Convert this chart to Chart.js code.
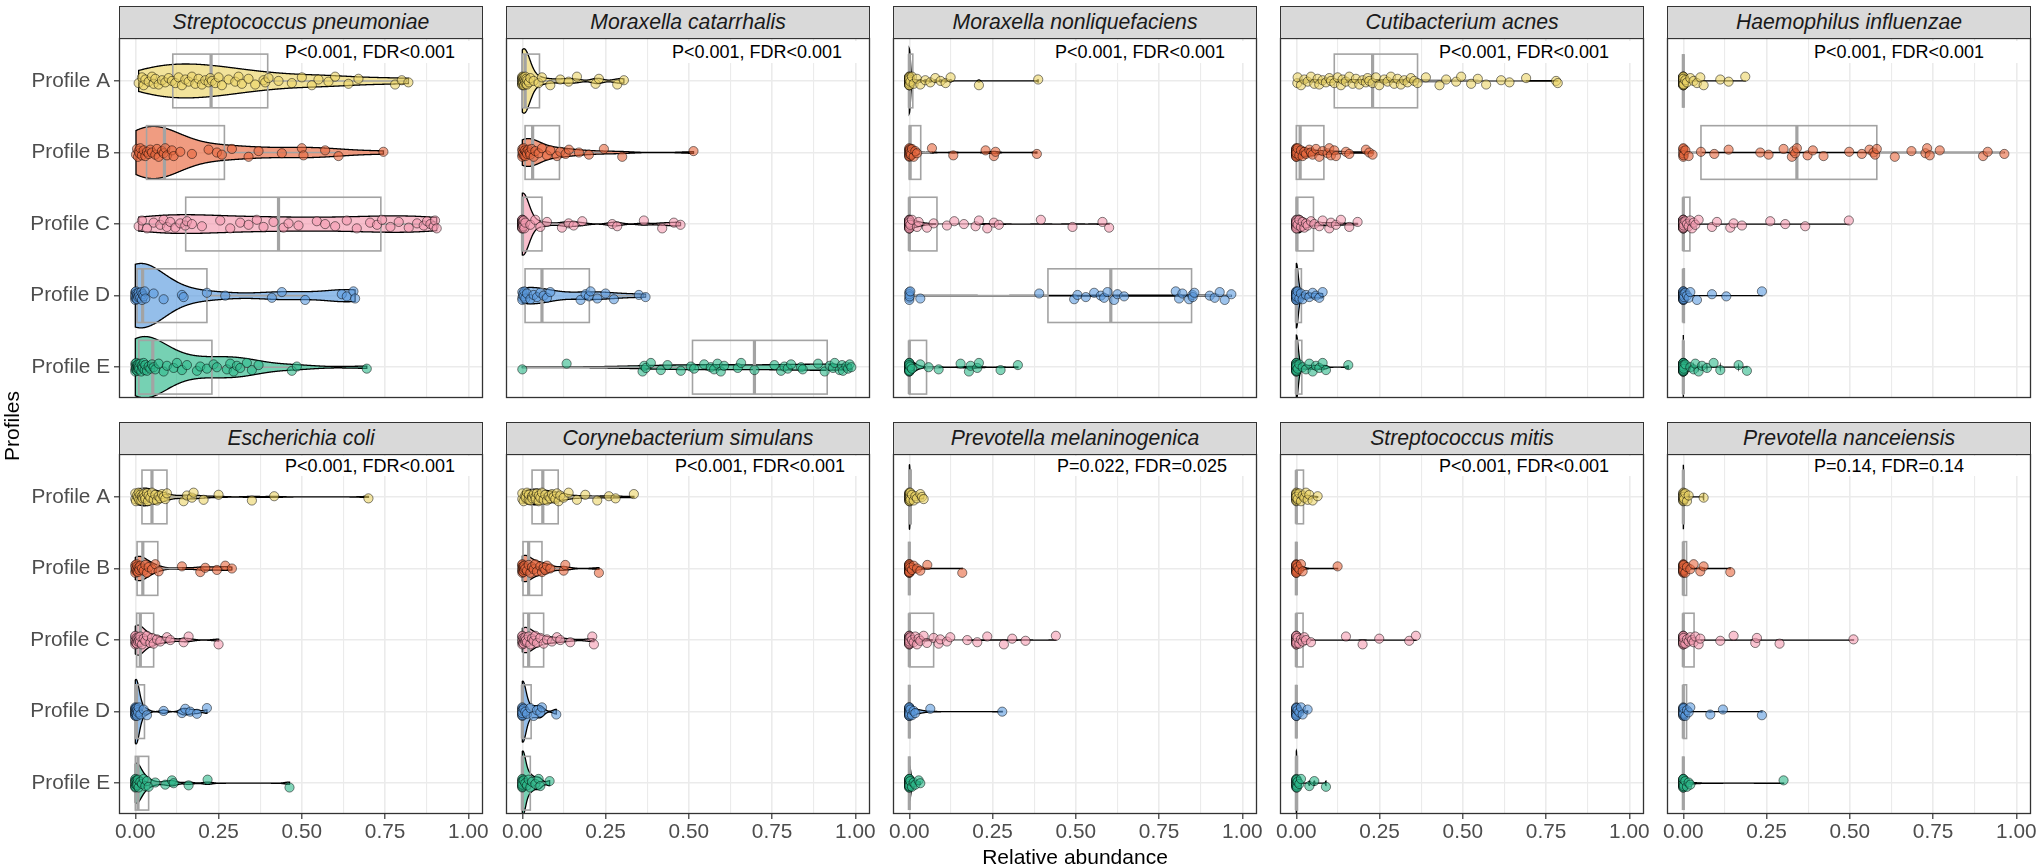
<!DOCTYPE html>
<html>
<head>
<meta charset="utf-8">
<script src="https://cdn.jsdelivr.net/npm/chart.js@4.4.1/dist/chart.umd.min.js"></script>
<style>
  body { margin: 0; background: #fff; width: 2040px; height: 866px; position: relative; overflow: hidden;
         font-family: "Liberation Sans", Arial, sans-serif; }
  canvas { position: absolute; }
  .strip { position: absolute; box-sizing: border-box; border: 1.3px solid #333; background: #d9d9d9;
           text-align: center; font-style: italic; font-size: 21.2px; line-height: 30px; color: #1a1a1a; }
  .pval { position: absolute; background: #fff; font-size: 18px; color: #000; white-space: nowrap; box-sizing: border-box; }
  .title { position: absolute; font-size: 21px; color: #000; white-space: nowrap; }
</style>
</head>
<body>
<script>
// facets, groups, labels
const species = ['Streptococcus pneumoniae', 'Moraxella catarrhalis', 'Moraxella nonliquefaciens', 'Cutibacterium acnes', 'Haemophilus influenzae',
  'Escherichia coli', 'Corynebacterium simulans', 'Prevotella melaninogenica', 'Streptococcus mitis', 'Prevotella nanceiensis'];
const profiles = ['Profile A', 'Profile B', 'Profile C', 'Profile D', 'Profile E'];
const pLabels = ['P<0.001, FDR<0.001', 'P<0.001, FDR<0.001', 'P<0.001, FDR<0.001', 'P<0.001, FDR<0.001', 'P<0.001, FDR<0.001',
  'P<0.001, FDR<0.001', 'P<0.001, FDR<0.001', 'P=0.022, FDR=0.025', 'P<0.001, FDR<0.001', 'P=0.14, FDR=0.14'];
const xTicks = [0, 0.125, 0.25, 0.375, 0.5, 0.625, 0.75, 0.875, 1];

// relative abundance per sample, one list per profile (A..E)
const sPneumoniae = [
  [0.01,0.02,0.025,0.03,0.04,0.05,0.055,0.06,0.07,0.08,0.09,0.1,0.11,0.12,0.13,0.14,0.15,0.16,0.17,0.18,0.19,0.2,0.21,0.22,0.225,0.23,0.24,0.25,0.26,0.28,0.3,0.31,0.32,0.34,0.36,0.385,0.39,0.4,0.43,0.47,0.5,0.53,0.55,0.58,0.6,0.64,0.67,0.78,0.8,0.82],
  [0.002,0.005,0.008,0.01,0.012,0.015,0.02,0.025,0.03,0.035,0.04,0.045,0.05,0.06,0.065,0.07,0.08,0.085,0.09,0.095,0.11,0.115,0.135,0.17,0.22,0.245,0.26,0.29,0.34,0.37,0.44,0.5,0.505,0.57,0.61,0.745],
  [0.01,0.02,0.035,0.055,0.075,0.085,0.095,0.105,0.12,0.135,0.15,0.155,0.17,0.2,0.255,0.285,0.315,0.34,0.365,0.385,0.415,0.445,0.46,0.49,0.545,0.57,0.6,0.635,0.665,0.705,0.726,0.741,0.766,0.791,0.821,0.846,0.866,0.876,0.886,0.896,0.9,0.905],
  [0,0,0,0,0,0.002,0.003,0.004,0.005,0.006,0.008,0.01,0.012,0.015,0.018,0.02,0.022,0.025,0.028,0.03,0.055,0.085,0.14,0.145,0.215,0.27,0.41,0.44,0.51,0.62,0.635,0.655,0.66],
  [0,0,0,0.001,0.002,0.003,0.004,0.005,0.006,0.007,0.008,0.009,0.01,0.012,0.015,0.018,0.02,0.022,0.025,0.028,0.03,0.035,0.04,0.045,0.05,0.055,0.06,0.07,0.085,0.095,0.115,0.125,0.14,0.155,0.185,0.195,0.215,0.235,0.245,0.275,0.285,0.295,0.305,0.315,0.335,0.35,0.37,0.47,0.485,0.695]
];
const mCatarrhalis = [
  [0,0,0,0,0,0,0,0,0,0,0,0.001,0.002,0.003,0.004,0.005,0.006,0.008,0.009,0.01,0.012,0.014,0.015,0.02,0.024,0.034,0.049,0.059,0.084,0.114,0.139,0.164,0.22,0.23,0.285,0.305],
  [0,0,0,0,0.002,0.004,0.005,0.008,0.009,0.012,0.014,0.018,0.022,0.024,0.028,0.034,0.039,0.049,0.059,0.074,0.084,0.104,0.114,0.13,0.14,0.17,0.2,0.245,0.3,0.514],
  [0,0,0,0,0,0,0,0,0,0,0,0,0,0,0,0,0,0,0,0,0,0,0.001,0.002,0.002,0.003,0.003,0.004,0.006,0.009,0.024,0.039,0.054,0.074,0.119,0.139,0.154,0.18,0.27,0.285,0.365,0.42,0.455,0.475],
  [0,0,0,0.002,0.004,0.006,0.009,0.014,0.024,0.034,0.044,0.054,0.064,0.074,0.084,0.175,0.19,0.2,0.205,0.225,0.25,0.275,0.35,0.37],
  [0,0.133,0.361,0.366,0.371,0.386,0.416,0.436,0.476,0.506,0.516,0.546,0.566,0.576,0.586,0.596,0.606,0.647,0.657,0.697,0.757,0.777,0.787,0.797,0.807,0.837,0.842,0.888,0.908,0.923,0.933,0.938,0.953,0.96,0.963,0.973,0.978,0.983,0.988]
];
const mNonliquefaciens = [
  [0,0,0,0,0,0,0,0,0,0,0,0,0,0,0,0,0,0,0,0,0,0,0,0,0,0,0,0,0,0,0.003,0.008,0.013,0.023,0.033,0.048,0.063,0.078,0.094,0.109,0.124,0.209,0.387],
  [0,0,0,0,0,0,0,0,0,0,0.001,0.002,0.003,0.005,0.008,0.013,0.018,0.023,0.068,0.132,0.229,0.254,0.259,0.383],
  [0,0,0,0,0,0,0,0,0,0,0,0,0,0,0,0,0,0,0,0,0,0,0,0,0,0,0,0,0,0,0.003,0.008,0.023,0.028,0.053,0.073,0.113,0.135,0.164,0.199,0.209,0.234,0.254,0.269,0.395,0.49,0.58,0.6],
  [0,0,0,0,0.001,0.003,0.033,0.39,0.495,0.505,0.53,0.555,0.575,0.585,0.595,0.615,0.625,0.645,0.8,0.81,0.82,0.84,0.85,0.851,0.856,0.902,0.917,0.932,0.947,0.967],
  [0,0,0,0,0,0,0,0,0,0,0,0,0,0,0,0,0,0,0,0,0,0,0.003,0.008,0.033,0.058,0.088,0.154,0.179,0.184,0.204,0.209,0.274,0.326]
];
const cAcnes = [
  [0.003,0.004,0.014,0.024,0.034,0.044,0.054,0.064,0.069,0.079,0.089,0.099,0.104,0.114,0.124,0.134,0.139,0.149,0.159,0.169,0.179,0.189,0.199,0.209,0.214,0.219,0.229,0.239,0.249,0.264,0.274,0.284,0.294,0.304,0.314,0.324,0.334,0.344,0.354,0.364,0.389,0.43,0.45,0.48,0.495,0.525,0.545,0.57,0.615,0.64,0.69,0.78,0.785],
  [0,0,0,0,0,0,0,0,0,0,0,0,0,0,0,0,0,0,0.004,0.009,0.014,0.019,0.024,0.029,0.039,0.044,0.049,0.059,0.069,0.079,0.094,0.099,0.104,0.114,0.119,0.149,0.159,0.209,0.219,0.229],
  [0,0,0,0,0,0,0,0,0,0,0,0,0,0,0,0,0,0.004,0.009,0.014,0.019,0.024,0.029,0.034,0.044,0.054,0.069,0.079,0.099,0.104,0.119,0.134,0.159,0.184],
  [0,0,0,0,0,0,0,0,0,0,0,0,0,0,0,0,0,0,0.004,0.009,0.014,0.019,0.029,0.039,0.049,0.059,0.069,0.079],
  [0,0,0,0,0,0,0,0,0,0,0,0,0,0,0,0,0,0,0,0,0,0,0,0.004,0.009,0.019,0.029,0.039,0.049,0.059,0.069,0.079,0.089,0.156]
];
const hInfluenzae = [
  [0,0,0,0,0,0,0,0,0,0,0,0,0,0,0,0,0,0,0,0,0,0,0,0,0,0,0,0,0,0,0,0,0,0,0.001,0.006,0.011,0.021,0.031,0.041,0.051,0.061,0.111,0.136,0.186],
  [0,0,0,0,0,0,0.001,0.006,0.016,0.053,0.093,0.136,0.231,0.256,0.301,0.326,0.331,0.336,0.341,0.373,0.389,0.421,0.498,0.536,0.559,0.571,0.576,0.581,0.635,0.685,0.727,0.732,0.74,0.77,0.9,0.914,0.964],
  [0,0,0,0,0,0,0,0,0,0,0,0,0,0,0,0,0,0,0,0,0,0,0,0,0,0,0,0,0,0,0,0,0,0,0,0,0.001,0.006,0.011,0.016,0.021,0.026,0.031,0.036,0.046,0.086,0.101,0.141,0.151,0.176,0.261,0.306,0.366,0.497],
  [0,0,0,0,0,0,0,0,0,0,0,0,0,0,0,0,0,0,0,0,0.0005,0.001,0.001,0.002,0.006,0.011,0.016,0.021,0.041,0.086,0.129,0.236],
  [0,0,0,0,0,0,0,0,0,0,0,0,0,0,0,0,0,0,0,0,0,0,0,0,0,0,0,0,0,0,0,0,0,0,0,0,0.001,0.006,0.021,0.031,0.036,0.046,0.056,0.071,0.091,0.111,0.166,0.191]
];
const eColi = [
  [0,0,0.002,0.005,0.008,0.01,0.012,0.015,0.018,0.02,0.022,0.025,0.028,0.03,0.035,0.038,0.04,0.045,0.05,0.055,0.06,0.065,0.07,0.075,0.08,0.085,0.09,0.095,0.145,0.155,0.17,0.175,0.205,0.25,0.35,0.417,0.7],
  [0,0,0,0,0.002,0.004,0.005,0.006,0.008,0.01,0.012,0.015,0.02,0.025,0.03,0.035,0.04,0.05,0.06,0.07,0.14,0.195,0.21,0.245,0.27,0.29],
  [0,0,0,0,0,0,0.002,0.004,0.005,0.006,0.008,0.01,0.012,0.014,0.015,0.02,0.025,0.03,0.035,0.045,0.05,0.055,0.065,0.075,0.095,0.105,0.145,0.16,0.25],
  [0,0,0,0,0,0,0,0,0,0,0,0.001,0.002,0.003,0.004,0.005,0.006,0.008,0.01,0.015,0.025,0.035,0.085,0.14,0.15,0.165,0.185,0.215],
  [0,0,0,0,0,0,0,0,0,0,0.002,0.004,0.005,0.006,0.008,0.01,0.015,0.02,0.025,0.03,0.035,0.04,0.06,0.09,0.11,0.115,0.16,0.217,0.463]
];
const cSimulans = [
  [0,0,0.004,0.009,0.01,0.014,0.019,0.02,0.024,0.029,0.03,0.034,0.039,0.04,0.044,0.049,0.05,0.054,0.059,0.064,0.069,0.074,0.079,0.084,0.089,0.094,0.099,0.104,0.109,0.114,0.124,0.139,0.164,0.189,0.225,0.26,0.28,0.335],
  [0,0,0,0,0,0,0.001,0.002,0.003,0.004,0.005,0.006,0.009,0.014,0.019,0.024,0.029,0.034,0.039,0.044,0.054,0.059,0.064,0.069,0.074,0.084,0.124,0.129,0.23],
  [0,0,0,0,0,0,0.002,0.003,0.004,0.006,0.008,0.009,0.011,0.014,0.019,0.024,0.029,0.034,0.039,0.044,0.054,0.064,0.074,0.089,0.104,0.114,0.144,0.21,0.215],
  [0,0,0,0,0,0,0,0,0,0,0,0.004,0.009,0.014,0.024,0.034,0.044,0.054,0.059,0.102],
  [0,0,0,0,0,0,0,0,0,0,0,0.004,0.009,0.014,0.019,0.024,0.029,0.039,0.049,0.054,0.082]
];
const pMelaninogenica = [
  [0,0,0,0,0,0,0,0,0,0,0,0,0.0005,0.001,0.001,0.0015,0.002,0.002,0.003,0.003,0.008,0.013,0.018,0.023,0.033,0.038,0.043],
  [0,0,0,0,0,0,0,0,0,0,0,0,0,0,0,0,0,0,0,0,0,0,0.003,0.008,0.013,0.023,0.033,0.054,0.159],
  [0,0,0,0,0,0,0,0,0,0,0,0,0,0,0,0,0,0,0,0,0,0,0,0,0.003,0.008,0.013,0.018,0.023,0.028,0.033,0.043,0.053,0.073,0.088,0.093,0.113,0.123,0.174,0.204,0.234,0.284,0.309,0.349,0.44],
  [0,0,0,0,0,0,0,0,0,0,0,0,0,0,0,0,0,0,0,0,0.003,0.008,0.013,0.018,0.063,0.279],
  [0,0,0,0,0,0,0,0,0,0,0,0,0,0,0,0,0,0,0,0,0.003,0.008,0.013,0.018,0.028,0.033]
];
const sMitis = [
  [0,0,0,0,0,0,0,0,0,0,0,0,0,0.004,0.009,0.014,0.019,0.024,0.029,0.034,0.039,0.049,0.064],
  [0,0,0,0,0,0,0,0,0,0,0,0,0,0,0,0,0.004,0.009,0.014,0.019,0.124],
  [0,0,0,0,0,0,0,0,0,0,0,0,0,0,0,0,0,0,0,0,0.004,0.009,0.014,0.019,0.024,0.029,0.044,0.149,0.199,0.249,0.339,0.359],
  [0,0,0,0,0,0,0,0,0,0,0,0,0,0,0,0,0.004,0.009,0.014,0.019,0.034],
  [0,0,0,0,0,0,0,0,0,0,0,0,0.0005,0.001,0.001,0.002,0.004,0.009,0.014,0.039,0.054,0.089]
];
const pNanceiensis = [
  [0,0,0,0,0,0,0,0,0,0,0.0005,0.001,0.001,0.002,0.006,0.011,0.016,0.061],
  [0,0,0,0,0,0,0,0,0,0,0,0,0,0,0.001,0.006,0.011,0.021,0.031,0.051,0.061,0.141],
  [0,0,0,0,0,0,0,0,0,0,0,0,0,0,0,0,0,0,0,0,0.001,0.006,0.011,0.016,0.021,0.026,0.031,0.036,0.046,0.051,0.111,0.151,0.216,0.221,0.289,0.511],
  [0,0,0,0,0,0,0,0,0,0,0,0,0,0,0.001,0.006,0.011,0.016,0.021,0.081,0.119,0.236],
  [0,0,0,0,0,0,0,0,0,0,0,0,0,0,0,0,0,0,0,0.001,0.006,0.011,0.016,0.021,0.301]
];
const abundance = [sPneumoniae, mCatarrhalis, mNonliquefaciens, cAcnes, hInfluenzae, eColi, cSimulans, pMelaninogenica, sMitis, pNanceiensis];

// look
const fills = ['#EBD466', '#E8673E', '#F59BB0', '#5B9BDF', '#2DB98A'];
const jitterPattern = [0.03, -0.05, 0.06, -0.02, 0.01, -0.06, 0.04, -0.03, 0.05, -0.01, 0.02, -0.04, 0.0];
const panelLeft = [119, 506, 893, 1280, 1667];
const plotTop = [38, 454];
const panelW = 364, panelH = 360, stripH = 32;
const pvalOffset = [[166, 166, 162, 159, 147], [166, 169, 164, 159, 147]];
const xMin = -0.049, xMax = 1.044;
const tickFont = 20.8;

Chart.defaults.font.family = '"Liberation Sans", Arial, sans-serif';

function rgba(hex, a) {
  const n = parseInt(hex.slice(1), 16);
  return `rgba(${n >> 16},${(n >> 8) & 255},${n & 255},${a})`;
}
function quantile(s, p) {
  const h = (s.length - 1) * p, lo = Math.floor(h);
  const nx = lo + 1 < s.length ? s[lo + 1] : s[lo];
  return s[lo] + (h - lo) * (nx - s[lo]);
}
// boxplot numbers + trimmed gaussian density (bw.nrd0 like R)
function groupStats(vals) {
  const s = vals.slice().sort((a, b) => a - b);
  const n = s.length;
  const q1 = quantile(s, 0.25), med = quantile(s, 0.5), q3 = quantile(s, 0.75);
  const iqr = q3 - q1;
  const lo = s.find(v => v >= q1 - 1.5 * iqr);
  const hi = s.slice().reverse().find(v => v <= q3 + 1.5 * iqr);
  const mean = s.reduce((a, b) => a + b, 0) / n;
  const sd = Math.sqrt(s.reduce((a, b) => a + (b - mean) * (b - mean), 0) / (n - 1));
  let spread = Math.min(sd, iqr / 1.34);
  if (!spread) spread = sd || Math.abs(vals[0]) || 1;
  const bw = 0.9 * spread * Math.pow(n, -0.2);
  const grid = [], dens = [];
  const from = s[0], to = s[n - 1];
  for (let k = 0; k < 512; k++) {
    const xv = from + (to - from) * k / 511;
    let sum = 0;
    for (const v of s) { const z = (xv - v) / bw; sum += Math.exp(-0.5 * z * z); }
    grid.push(xv);
    dens.push(sum / (n * bw * Math.sqrt(2 * Math.PI)));
  }
  return { q1, med, q3, lo, hi, grid, dens };
}

function isMajor(v) { return Math.abs(v * 4 - Math.round(v * 4)) < 1e-6; }

function panelPlugin(stats) {
  const maxD = Math.max(...stats.map(g => Math.max(...g.dens)));
  return {
    id: 'violinBox',
    beforeDatasetsDraw(chart) {
      const { ctx, chartArea, scales: { x, y } } = chart;
      ctx.save();
      ctx.beginPath();
      ctx.rect(chartArea.left, chartArea.top, chartArea.right - chartArea.left, chartArea.bottom - chartArea.top);
      ctx.clip();
      stats.forEach((g, i) => {
        // violin
        ctx.beginPath();
        g.grid.forEach((xv, k) => {
          const px = x.getPixelForValue(xv), py = y.getPixelForValue(i - 0.45 * g.dens[k] / maxD);
          if (k === 0) ctx.moveTo(px, py); else ctx.lineTo(px, py);
        });
        for (let k = g.grid.length - 1; k >= 0; k--) {
          ctx.lineTo(x.getPixelForValue(g.grid[k]), y.getPixelForValue(i + 0.45 * g.dens[k] / maxD));
        }
        ctx.closePath();
        ctx.fillStyle = rgba(fills[i], 0.65);
        ctx.fill();
        ctx.strokeStyle = '#000';
        ctx.lineWidth = 1.3;
        ctx.stroke();
        // box
        const yc = y.getPixelForValue(i), yt = y.getPixelForValue(i - 0.375), yb = y.getPixelForValue(i + 0.375);
        const x1 = x.getPixelForValue(g.q1), x3 = x.getPixelForValue(g.q3);
        ctx.strokeStyle = '#a3a3a3';
        ctx.lineWidth = 1.6;
        ctx.beginPath();
        ctx.moveTo(x.getPixelForValue(g.lo), yc); ctx.lineTo(x1, yc);
        ctx.moveTo(x3, yc); ctx.lineTo(x.getPixelForValue(g.hi), yc);
        ctx.stroke();
        ctx.strokeRect(x1, yt, x3 - x1, yb - yt);
        ctx.lineWidth = 3.2;
        ctx.beginPath();
        ctx.moveTo(x.getPixelForValue(g.med), yt); ctx.lineTo(x.getPixelForValue(g.med), yb);
        ctx.stroke();
      });
      ctx.restore();
    },
    afterDraw(chart) {
      const { ctx, chartArea: a } = chart;
      ctx.save();
      ctx.strokeStyle = '#333';
      ctx.lineWidth = 1.3;
      ctx.strokeRect(a.left + 0.5, a.top + 0.5, a.right - a.left - 1, a.bottom - a.top - 1);
      ctx.restore();
    }
  };
}

function addDiv(cls, text, css) {
  const d = document.createElement('div');
  d.className = cls;
  d.textContent = text;
  Object.assign(d.style, css);
  document.body.appendChild(d);
  return d;
}

species.forEach((name, p) => {
  const r = Math.floor(p / 5), c = p % 5;
  const padL = c === 0 ? 119 : 10;
  const padB = r === 1 ? 45 : 20;
  const cv = document.createElement('canvas');
  cv.width = padL + panelW + 30;
  cv.height = 20 + panelH + padB;
  cv.style.left = (panelLeft[c] - padL) + 'px';
  cv.style.top = (plotTop[r] - 20) + 'px';
  document.body.appendChild(cv);

  const stats = abundance[p].map(groupStats);

  new Chart(cv, {
    type: 'scatter',
    data: {
      datasets: profiles.map((label, i) => ({
        label,
        data: abundance[p][i].map((v, k) => ({ x: v, y: i + jitterPattern[k % jitterPattern.length] })),
        backgroundColor: rgba(fills[i], 0.6),
        borderColor: 'rgba(0,0,0,0.55)',
        borderWidth: 0.9,
        pointRadius: 4.6
      }))
    },
    options: {
      responsive: false,
      animation: false,
      layout: { padding: { top: 20, right: 30, left: 0, bottom: 0 } },
      plugins: { legend: { display: false }, tooltip: { enabled: false } },
      scales: {
        x: {
          type: 'linear', min: xMin, max: xMax, bounds: 'data',
          afterBuildTicks: s => { s.ticks = xTicks.map(v => ({ value: v })); },
          afterFit: s => { s.height = padB; },
          border: { display: false },
          grid: {
            color: '#ebebeb',
            lineWidth: ctx => (ctx.tick && isMajor(ctx.tick.value)) ? 1.6 : 1.1,
            drawTicks: r === 1, tickLength: 5, tickWidth: 1.2,
            tickColor: ctx => (ctx.tick && isMajor(ctx.tick.value)) ? '#333' : 'rgba(0,0,0,0)'
          },
          ticks: {
            display: r === 1, autoSkip: false, maxRotation: 0, minRotation: 0, padding: 1,
            color: '#4d4d4d', font: { size: tickFont },
            callback: v => isMajor(v) ? Number(v).toFixed(2) : ''
          }
        },
        y: {
          type: 'linear', min: -0.6, max: 4.43, reverse: true, bounds: 'data',
          afterBuildTicks: s => { s.ticks = profiles.map((_, i) => ({ value: i })); },
          afterFit: s => { s.width = padL; },
          border: { display: false },
          grid: { color: '#ebebeb', lineWidth: 1.6, drawTicks: c === 0, tickLength: 5, tickWidth: 1.2, tickColor: '#333' },
          ticks: {
            display: c === 0, autoSkip: false, padding: 4, color: '#4d4d4d', font: { size: tickFont },
            callback: v => profiles[v] ?? ''
          }
        }
      }
    },
    plugins: [panelPlugin(stats)]
  });

  addDiv('strip', name, {
    left: panelLeft[c] + 'px', top: (plotTop[r] - stripH) + 'px', width: panelW + 'px', height: (stripH + 1) + 'px'
  });
  const off = pvalOffset[r][c];
  addDiv('pval', pLabels[p], {
    left: (panelLeft[c] + off - 4) + 'px',
    top: (plotTop[r] + (r === 0 ? 2.5 : 1.5)) + 'px',
    width: (panelW - off - 6) + 'px',
    paddingLeft: '4px',
    lineHeight: (r === 0 ? 22 : 20) + 'px'
  });
});

addDiv('title', 'Relative abundance', { left: '1075px', top: '845px', transform: 'translateX(-50%)', lineHeight: '24px' });
addDiv('title', 'Profiles', { left: '12px', top: '426px', transform: 'translate(-50%,-50%) rotate(-90deg)', lineHeight: '24px' });
</script>
</body>
</html>
